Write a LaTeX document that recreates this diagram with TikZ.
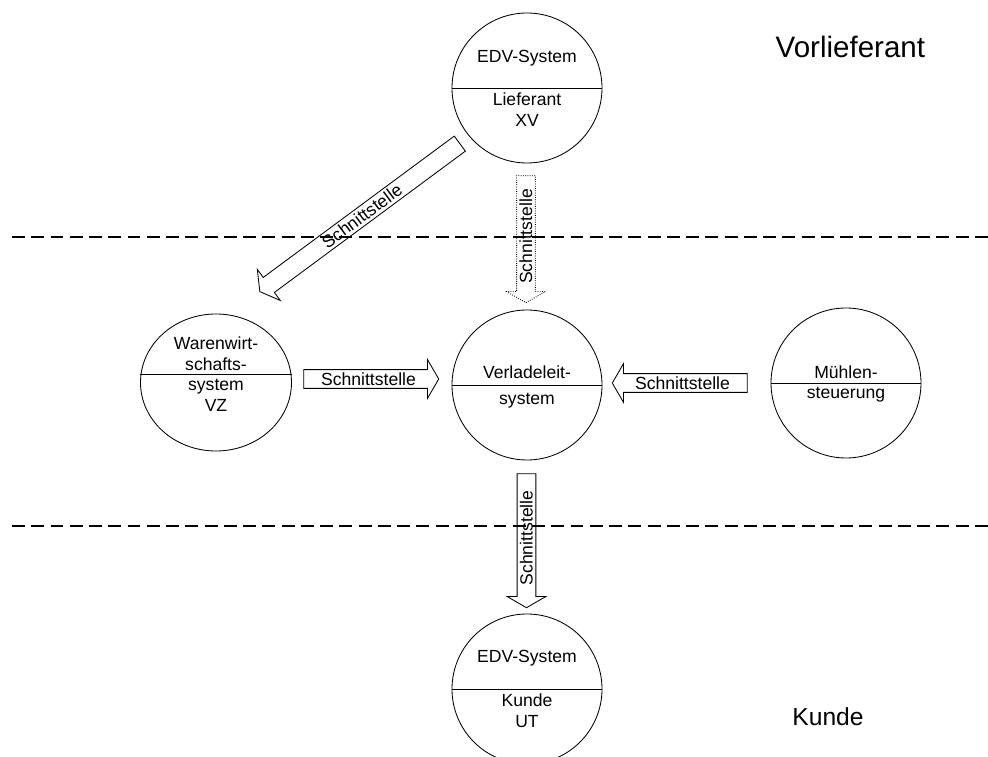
\documentclass[tikz,border=0pt]{standalone}
\usepackage{fontspec}
\setmainfont{Liberation Sans}
\usetikzlibrary{shapes.arrows,shapes.geometric,positioning}
\tikzset{
	unit/.style={draw,circle,minimum size=3.75cm,inner sep=0pt,line width=0.6pt},
	txt/.style={inner sep=0pt,align=center,font=\fontsize{12.5}{14.6}\selectfont},
	iface/.style={draw,single arrow,line width=0.6pt,single arrow head extend=0.25cm,
		single arrow tip angle=120,single arrow head indent=0pt,inner xsep=2pt,inner ysep=1.7pt,
		text height=9pt,text depth=0.3pt,font=\fontsize{12.5}{14.6}\selectfont},
	level/.style={line width=1.2pt,dash pattern=on 9.2pt off 4.5pt}
}
\begin{document}
\begin{tikzpicture}
	\useasboundingbox (0,0) rectangle (24.7,18.9);
	\draw[level] (0.3,12.975) -- (24.7,12.975);
	\draw[level] (0.3,5.75) -- (24.7,5.75);
	\node[unit] (lief) at (13.175,16.7) {};
	\node[unit] (vls) at (13.175,9.275) {};
	\node[unit,ellipse,minimum width=3.775cm,minimum height=3.425cm] (wws) at (5.4,9.3375) {};
	\node[unit] (muehle) at (21.15,9.325) {};
	\node[unit] (kunde) at (13.175,1.675) {};
	\foreach \n in {lief,vls,muehle,kunde}
		\draw[line width=0.6pt] (\n.west) -- (\n.east);
	\coordinate (wws-d) at ([yshift=0.19cm]wws.center);
	\draw[line width=0.6pt] ([yshift=0.19cm]wws.west) -- ([yshift=0.19cm]wws.east);
	\node[txt,above=0.53cm of lief.center] (lief-o) {EDV-System};
	\node[txt,below=0.12cm of lief.center] (lief-u) {Lieferant\\XV};
	\node[txt,above=0.15cm of vls.center] (vls-o) {Verladeleit-};
	\node[txt,below=0.2cm of vls.center] (vls-u) {system};
	\node[txt,above=0.1cm of wws-d] (wws-o) {Warenwirt-\\schafts-};
	\node[txt,below=0.1cm of wws-d] (wws-u) {system\\VZ};
	\node[txt,above=0.1cm of muehle.center] (muehle-o) {Mühlen-};
	\node[txt,below=0.1cm of muehle.center] (muehle-u) {steuerung};
	\node[txt,above=0.57cm of kunde.center] (kunde-o) {EDV-System};
	\node[txt,below=0.12cm of kunde.center] (kunde-u) {Kunde\\UT};
	\node[iface,minimum height=3.375cm] (s1) at (9.2125,9.425) {Schnittstelle};
	\node[iface,shape border rotate=180,minimum height=3.375cm] (s2) at (17.0625,9.325) {Schnittstelle};
	\node[iface,rotate=90,shape border rotate=180,minimum height=3.35cm] (s3) at (13.1625,5.45) {Schnittstelle};
	\node[iface,densely dotted,rotate=90,shape border rotate=180,minimum height=3.175cm] (s4) at (13.15,12.9875) {Schnittstelle};
	\node[iface,rotate=36.5,shape border rotate=180,minimum height=6.22cm] (s5) at (9.05,13.5) {Schnittstelle};
	\node[font=\fontsize{21}{24}\selectfont] (vorl) at (21.26,17.725) {Vorlieferant};
	\node[font=\fontsize{17.5}{20}\selectfont] (kd) at (20.7,0.97) {Kunde};
\end{tikzpicture}
\end{document}
